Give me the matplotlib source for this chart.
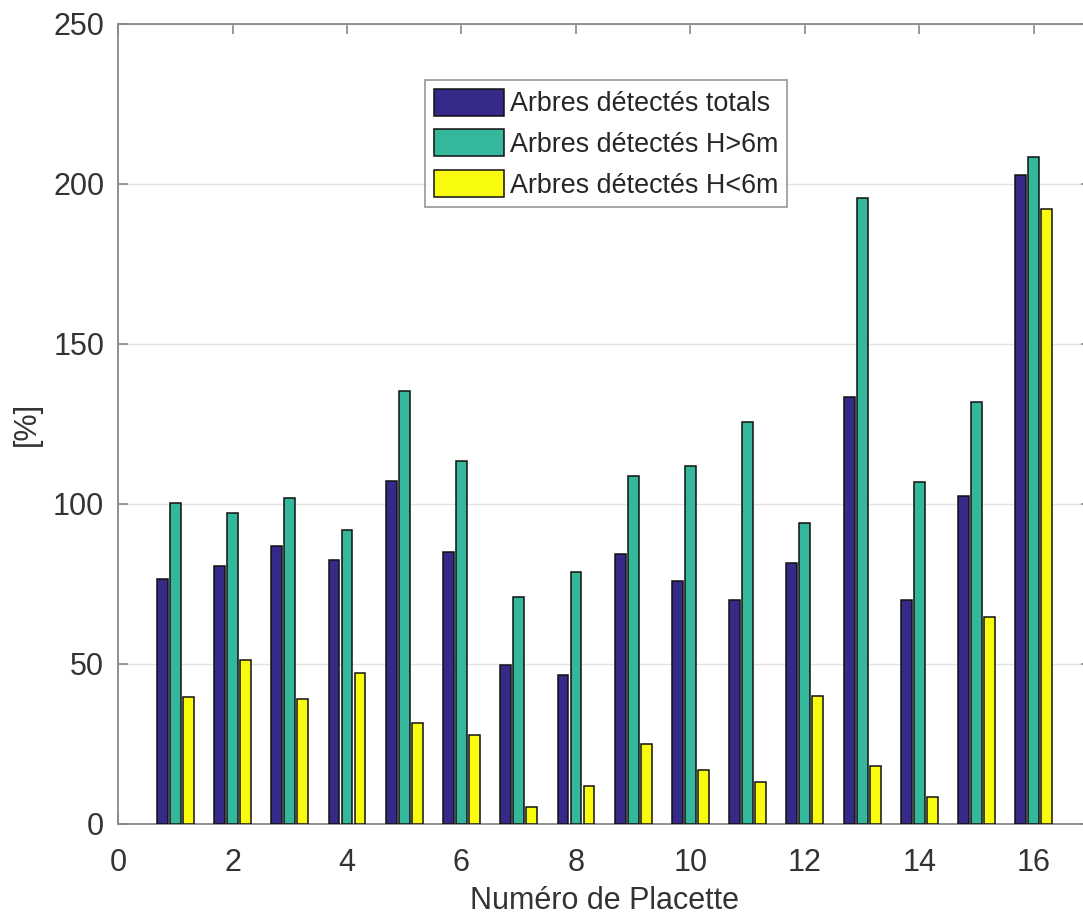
import numpy as np
import matplotlib.pyplot as plt

plt.rcParams["font.family"] = ["Liberation Sans", "DejaVu Sans"]

placettes = np.arange(1, 17)
totals = [76.5, 80.7, 86.8, 82.5, 107.2, 85.1, 49.6, 46.6, 84.4, 75.8, 70.0, 81.6, 133.4, 70.0, 102.6, 202.9]
h_sup6 = [100.2, 97.3, 102.0, 92.0, 135.3, 113.5, 70.8, 78.8, 108.6, 112.0, 125.6, 94.0, 195.5, 107.0, 131.9, 208.3]
h_inf6 = [39.6, 51.3, 39.0, 47.2, 31.7, 27.8, 5.4, 12.0, 25.0, 16.9, 13.1, 40.0, 18.2, 8.5, 64.7, 192.3]

labels = ["Arbres détectés totals", "Arbres détectés H>6m", "Arbres détectés H<6m"]
colors = ["#352a87", "#35b79b", "#f9fb0e"]

fig = plt.figure(figsize=(10.83, 9.18), dpi=100)
ax = fig.add_axes([0.109, 0.1024, 0.8985, 0.8715])

offset = 0.227
width = 0.19
for i, (vals, lab, col) in enumerate(zip([totals, h_sup6, h_inf6], labels, colors)):
    ax.bar(placettes + (i - 1) * offset, vals, width, color=col, edgecolor="#111111",
           linewidth=1.1, label=lab, zorder=3)

ax.set_xlim(0, 17)
ax.set_ylim(0, 250)
ax.set_xticks(range(0, 17, 2))
ax.set_yticks(range(0, 251, 50))
ax.grid(axis="y", color="#e3e3e3", linewidth=1, zorder=0)

for s in ax.spines.values():
    s.set_color("#888888")
    s.set_linewidth(1.3)
ax.tick_params(direction="in", top=True, right=True, length=7, width=1.2,
               color="#888888", labelcolor="#333333", labelsize=22)
ax.tick_params(axis="x", pad=17)
ax.tick_params(axis="y", pad=10)

ax.set_xlabel("Numéro de Placette", fontsize=22, color="#333333")
ax.set_ylabel("[%]", fontsize=22, color="#333333")
ax.xaxis.set_label_coords(0.5, -0.077)
ax.yaxis.set_label_coords(-0.078, 0.5)

leg = ax.legend(loc="upper left", bbox_to_anchor=(0.3155, 0.93), fontsize=19.4,
                frameon=True, fancybox=False, edgecolor="#888888",
                handlelength=2.6, handleheight=1.15, handletextpad=0.22,
                labelspacing=0.45, borderpad=0.33, borderaxespad=0)
leg.get_frame().set_linewidth(1.3)
for t in leg.get_texts():
    t.set_color("#262626")

fig.savefig("out.png", dpi=100)
